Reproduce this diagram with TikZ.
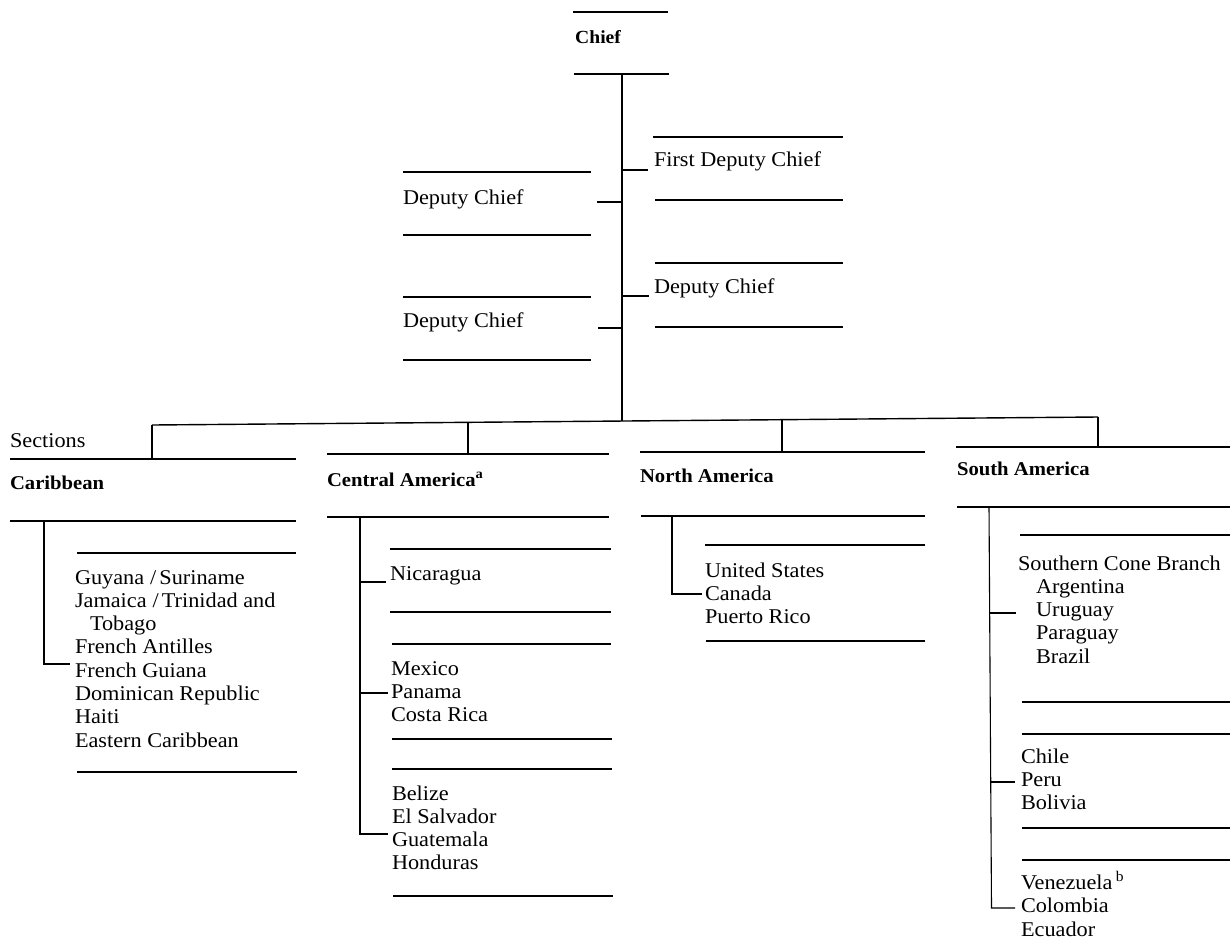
\documentclass[tikz,border=0pt]{standalone}
\usepackage{fontspec}
\setmainfont{Liberation Serif}[FakeStretch=1.06]
\newcommand\regfont{\fontsize{21}{23.3}\selectfont}
\newcommand\ttlfont{\fontsize{19.5}{23}\selectfont\bfseries}
\newcommand\chieffont{\fontsize{18.5}{22}\selectfont\bfseries}
\begin{document}
\begin{tikzpicture}[x=1pt,y=-1pt,
  rule/.style={line width=1.4pt},
  conn/.style={line width=1.1pt},
  lbl/.style={anchor=base west, inner sep=0pt, outer sep=0pt, font=\regfont},
  ttl/.style={anchor=base west, inner sep=0pt, outer sep=0pt, font=\ttlfont},
  lst/.style={anchor=north west, inner sep=0pt, outer sep=0pt, align=left, font=\regfont}]
\useasboundingbox (0,0) rectangle (1230,951);

% ---------- Chief ----------
\draw[rule] (573,12) -- (668,12);
\node[anchor=base west, inner sep=0pt, font=\chieffont] (chief) at (575,43) {Chief};
\draw[rule] (574,74) -- (669,74);
\coordinate (chiefbot) at (622,74);
\coordinate (busC) at (622,421);
\draw[conn] (chiefbot) -- (busC);

% ---------- Deputies ----------
\draw[rule] (653,137) -- (843,137);
\node[lbl] (fdc) at (654,166) {First Deputy Chief};
\draw[rule] (655,200) -- (843,200);
\coordinate (jfdc) at (622,170); \coordinate (efdc) at (648,170);
\draw[conn] (jfdc) -- (efdc);

\draw[rule] (403,172) -- (591,172);
\node[lbl] (dcl1) at (403,204) {Deputy Chief};
\draw[rule] (403,235) -- (591,235);
\coordinate (jdcl1) at (622,202); \coordinate (edcl1) at (597,202);
\draw[conn] (jdcl1) -- (edcl1);

\draw[rule] (655,263) -- (843,263);
\node[lbl] (dcr) at (654,293) {Deputy Chief};
\draw[rule] (655,327) -- (843,327);
\coordinate (jdcr) at (622,296); \coordinate (edcr) at (649,296);
\draw[conn] (jdcr) -- (edcr);

\draw[rule] (403,297) -- (591,297);
\node[lbl] (dcl2) at (403,327) {Deputy Chief};
\draw[rule] (403,360) -- (591,360);
\coordinate (jdcl2) at (622,328); \coordinate (edcl2) at (598,328);
\draw[conn] (jdcl2) -- (edcl2);

% ---------- Bus ----------
\coordinate (busL) at (152,425);
\coordinate (busR) at (1098,417);
\coordinate (busCen) at (468,422.3);
\coordinate (busNor) at (782,419.7);
\draw[rule] (busL) -- (busR);
\coordinate (carT) at (152,459);
\coordinate (cenT) at (468,454);
\coordinate (norT) at (782,452);
\coordinate (souT) at (1098,447);
\draw[conn] (busL) -- (carT);
\draw[conn] (busCen) -- (cenT);
\draw[conn] (busNor) -- (norT);
\draw[conn] (busR) -- (souT);

\node[lbl] (sections) at (10,447) {Sections};

% ---------- Caribbean ----------
\draw[rule] (10,459) -- (296,459);
\node[ttl] (car) at (10,489) {Caribbean};
\draw[rule] (10,521) -- (296,521);
\draw[rule] (77,553) -- (296,553);
\node[lst] (carlist) at (75,567.7) {\strut Guyana\hspace{6pt}/\hspace{3pt}Suriname\\
  Jamaica\hspace{6pt}/\hspace{3pt}Trinidad and\\
  \hspace*{15pt}Tobago\\ French Antilles\\ French Guiana\\
  Dominican Republic\\ Haiti\\ Eastern Caribbean};
\draw[rule] (77,772) -- (297,772);
\coordinate (carV) at (44,521); \coordinate (carC) at (44,664); \coordinate (carE) at (70,664);
\draw[conn] (carV) -- (carC) -- (carE);

% ---------- Central America ----------
\draw[rule] (327,454) -- (609,454);
\node[ttl] (cen) at (327,486) {Central America\textsuperscript{a}};
\draw[rule] (327,517) -- (609,517);
\coordinate (cenV) at (360,517); \coordinate (cenC) at (360,834); \coordinate (cenE3) at (388,834);
\draw[conn] (cenV) -- (cenC) -- (cenE3);

\draw[rule] (390,549) -- (611,549);
\node[lbl] (nic) at (390,580) {Nicaragua};
\draw[rule] (390,612) -- (611,612);
\coordinate (cenJ1) at (360,582); \coordinate (cenE1) at (386,582);
\draw[conn] (cenJ1) -- (cenE1);

\draw[rule] (392,644) -- (611,644);
\node[lst] (mexlist) at (391,658.7) {\strut Mexico\\ Panama\\ Costa Rica};
\draw[rule] (392,739) -- (612,739);
\coordinate (cenJ2) at (360,693); \coordinate (cenE2) at (388,693);
\draw[conn] (cenJ2) -- (cenE2);

\draw[rule] (392,769) -- (612,769);
\node[lst] (bellist) at (392,783.7) {\strut Belize\\ El Salvador\\ Guatemala\\ Honduras};
\draw[rule] (393,896) -- (613,896);

% ---------- North America ----------
\draw[rule] (640,452) -- (925,452);
\node[ttl] (nor) at (640,482) {North America};
\draw[rule] (641,516) -- (925,516);
\draw[rule] (705,545) -- (925,545);
\node[lst] (nalist) at (705,560.7) {\strut United States\\ Canada\\ Puerto Rico};
\draw[rule] (706,641) -- (925,641);
\coordinate (norV) at (672,516); \coordinate (norC) at (672,594); \coordinate (norE) at (702,594);
\draw[conn] (norV) -- (norC) -- (norE);

% ---------- South America ----------
\draw[rule] (956,447) -- (1230,447);
\node[ttl] (sou) at (957,475) {South America};
\draw[rule] (957,507) -- (1230,507);
\coordinate (souV) at (989,507); \coordinate (souC) at (991.5,908); \coordinate (souE3) at (1015,908);
\draw[conn] (souV) -- (souC) -- (souE3);

\draw[rule] (1020,535) -- (1230,535);
\node[lst] (sclist) at (1018,553.7) {\strut Southern Cone Branch\\
  \hspace*{18pt}Argentina\\ \hspace*{18pt}Uruguay\\ \hspace*{18pt}Paraguay\\ \hspace*{18pt}Brazil};
\draw[rule] (1022,702) -- (1230,702);
\coordinate (souJ1) at (989.5,613); \coordinate (souE1) at (1016,613);
\draw[conn] (souJ1) -- (souE1);

\draw[rule] (1022,734) -- (1230,734);
\node[lst] (chlist) at (1021,746.7) {\strut Chile\\ Peru\\ Bolivia};
\draw[rule] (1022,828) -- (1230,828);
\coordinate (souJ2) at (990.7,782); \coordinate (souE2) at (1015,782);
\draw[conn] (souJ2) -- (souE2);

\draw[rule] (1022,860) -- (1230,860);
\node[lst] (venlist) at (1021,871.7) {\strut Venezuela\,\textsuperscript{b}\\ Colombia\\ Ecuador};
\end{tikzpicture}
\end{document}
